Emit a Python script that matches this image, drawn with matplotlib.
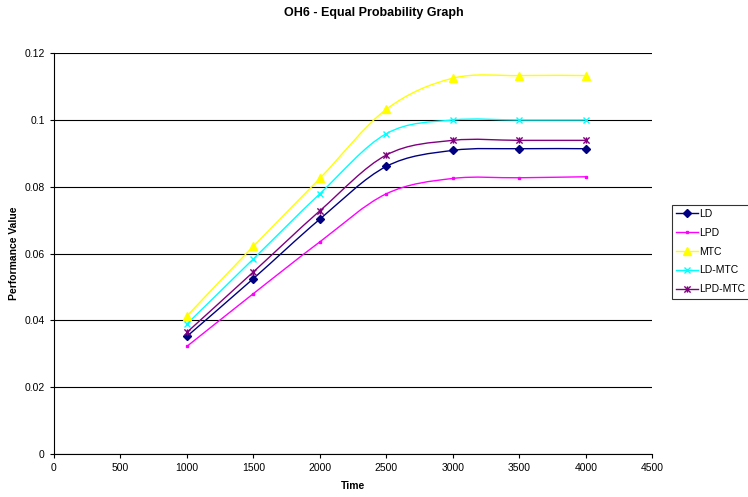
import matplotlib
matplotlib.use("Agg")
import matplotlib.pyplot as plt
from matplotlib.path import Path
from matplotlib.patches import PathPatch
from matplotlib.lines import Line2D

plt.rcParams['font.family'] = ['Liberation Sans', 'DejaVu Sans']

# data
time = [1000, 1500, 2000, 2500, 3000, 3500, 4000]
ld = [0.0352, 0.0525, 0.0703, 0.0861, 0.0909, 0.0914, 0.0914]
lpd = [0.0322, 0.0480, 0.0635, 0.0779, 0.0825, 0.0827, 0.0830]
mtc = [0.0413, 0.0622, 0.0825, 0.1032, 0.1125, 0.1133, 0.1133]
ld_mtc = [0.0389, 0.0584, 0.0779, 0.0959, 0.1000, 0.1000, 0.1000]
lpd_mtc = [0.0364, 0.0545, 0.0728, 0.0895, 0.0939, 0.0939, 0.0939]

series_names = ["LD", "LPD", "MTC", "LD-MTC", "LPD-MTC"]
series_values = [ld, lpd, mtc, ld_mtc, lpd_mtc]

# excel "star" marker: an x with a vertical bar through it
star = Path([(-1, -1), (1, 1), (-1, 1), (1, -1), (0, -1), (0, 1)],
            [Path.MOVETO, Path.LINETO, Path.MOVETO, Path.LINETO,
             Path.MOVETO, Path.LINETO])

colors = ["#000080", "#FF00FF", "#FFFF00", "#00FFFF", "#800080"]
markers = ["D", "s", "^", "x", star]
msizes = [4, 2, 5.5, 4.5, 4.5]


def smooth_path(xs, ys):
    # excel style smoothed line: cubic bezier segments through the points
    verts = [(xs[0], ys[0])]
    codes = [Path.MOVETO]
    n = len(xs)
    for i in range(n - 1):
        x0, y0 = (xs[i - 1], ys[i - 1]) if i > 0 else (xs[i], ys[i])
        x3, y3 = (xs[i + 2], ys[i + 2]) if i + 2 < n else (xs[i + 1], ys[i + 1])
        c1 = (xs[i] + (xs[i + 1] - x0) / 6, ys[i] + (ys[i + 1] - y0) / 6)
        c2 = (xs[i + 1] - (x3 - xs[i]) / 6, ys[i + 1] - (y3 - ys[i]) / 6)
        verts += [c1, c2, (xs[i + 1], ys[i + 1])]
        codes += [Path.CURVE4] * 3
    return Path(verts, codes)


fig = plt.figure(figsize=(7.48, 4.97), dpi=100)
ax = fig.add_axes([0.072, 0.0865, 0.8, 0.8065])

handles = []
for name, vals, c, m, ms in zip(series_names, series_values, colors, markers, msizes):
    patch = PathPatch(smooth_path(time, vals), facecolor="none", edgecolor=c,
                      lw=1.0, transform=ax.transData, zorder=3)
    ax.add_patch(patch)
    ax.plot(time, vals, linestyle="none", marker=m, color=c, markersize=ms,
            markeredgecolor=c, markeredgewidth=1.0, zorder=4)
    handles.append(Line2D([], [], color=c, lw=1.0, marker=m, markersize=ms,
                          markeredgewidth=1.0, label=name))

ax.set_xlim(0, 4500)
ax.set_ylim(0, 0.12)
ax.set_xticks(range(0, 4501, 500))
ax.set_yticks([0, 0.02, 0.04, 0.06, 0.08, 0.1, 0.12])
ax.set_yticklabels(["0", "0.02", "0.04", "0.06", "0.08", "0.1", "0.12"])
ax.yaxis.grid(True, color="black", lw=0.8)
ax.set_axisbelow(True)
for s in ["top", "right"]:
    ax.spines[s].set_visible(False)
ax.spines["left"].set_linewidth(0.8)
ax.spines["bottom"].set_linewidth(0.8)
ax.tick_params(labelsize=7.5, length=3, width=0.8, direction="out")

ax.set_xlabel("Time", fontsize=7.5, fontweight="bold", labelpad=6)
ax.set_ylabel("Performance Value", fontsize=7.5, fontweight="bold", labelpad=4)
fig.text(0.5, 0.973, "OH6 - Equal Probability Graph", ha="center", va="center",
         fontsize=9, fontweight="bold")

leg = fig.legend(handles=handles, loc="upper left", bbox_to_anchor=(0.898, 0.588),
                 fontsize=7.5, frameon=True, fancybox=False, edgecolor="black",
                 borderpad=0.4, labelspacing=0.85, handlelength=2.1,
                 handletextpad=0.1, borderaxespad=0)
leg.get_frame().set_linewidth(0.8)

fig.savefig("out.png", dpi=100)
